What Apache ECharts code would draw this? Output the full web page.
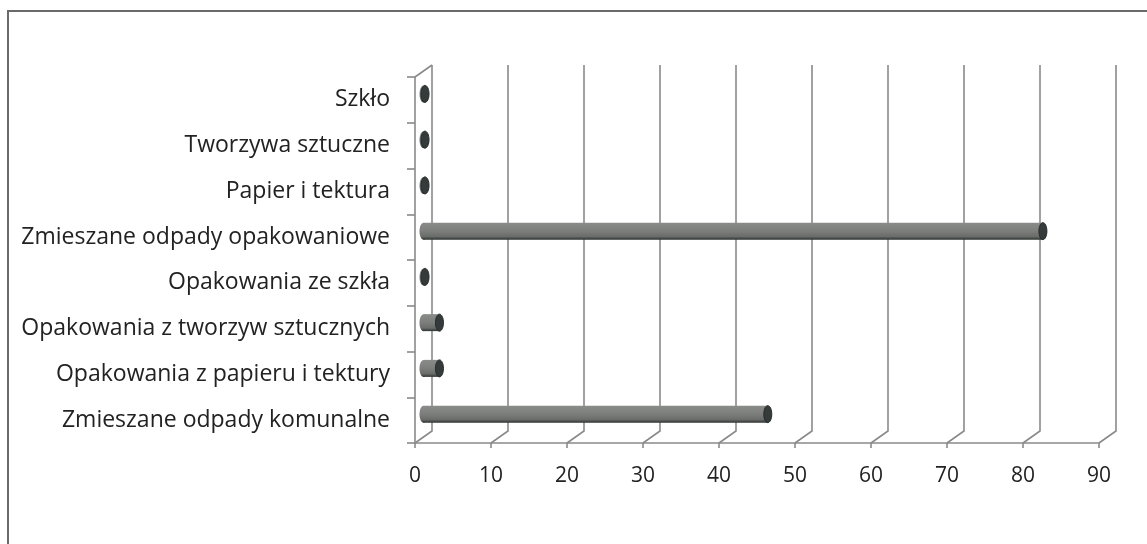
<!DOCTYPE html>
<html lang="pl">
<head>
    <meta charset="UTF-8">
    <title>Odpady</title>
    <script src="https://cdn.jsdelivr.net/npm/echarts@6/dist/echarts.min.js"></script>
    <style>
        html, body { margin: 0; padding: 0; background: #fff; }
        #main { width: 1147px; height: 544px; }
    </style>
</head>
<body>
<div id="main"></div>
<script>
    // kategorie od dołu do góry
    var categories = [
        'Zmieszane odpady komunalne',
        'Opakowania z papieru i tektury',
        'Opakowania z tworzyw sztucznych',
        'Opakowania ze szkła',
        'Zmieszane odpady opakowaniowe',
        'Papier i tektura',
        'Tworzywa sztuczne',
        'Szkło'
    ];
    var values = [45.3, 2.1, 2.1, 0.2, 81.5, 0.2, 0.2, 0.2];
    var xTicks = [0, 10, 20, 30, 40, 50, 60, 70, 80, 90];

    // przesunięcie "głębi" 3D (tylna ściana)
    var DX = 17, DY = -12;
    var gridColor = '#8a8a8a';

    var chart = echarts.init(document.getElementById('main'));

    function renderWalls(params, api) {
        var cs = params.coordSys;
        var v = api.value(0);
        var x = api.coord([v, 0])[0];
        var bottom = cs.y + cs.height;
        var top = cs.y;
        var children = [{
            type: 'polyline',
            shape: { points: [[x, bottom], [x + DX, bottom + DY], [x + DX, top + DY]] },
            style: { stroke: gridColor, lineWidth: 1.6, fill: null }
        }];
        if (v === xTicks[0]) {
            children.push({
                type: 'line',
                shape: { x1: x, y1: top, x2: x + DX, y2: top + DY },
                style: { stroke: gridColor, lineWidth: 1.6 }
            });
        }
        return { type: 'group', children: children };
    }

    function renderBar(params, api) {
        var start = api.coord([0, api.value(1)]);
        var end = api.coord([api.value(0), api.value(1)]);
        var h = 17, rx = 4;
        var cy = start[1] + DY / 2;
        var x0 = start[0] + DX / 2;
        var x1 = end[0] + DX / 2;
        var grad = new echarts.graphic.LinearGradient(0, 0, 0, 1, [
            { offset: 0, color: '#8a8c89' },
            { offset: 0.5, color: '#7c7e7b' },
            { offset: 0.82, color: '#6a6c69' },
            { offset: 1, color: '#2d3432' }
        ]);
        return {
            type: 'group',
            children: [
                {
                    type: 'ellipse',
                    shape: { cx: x0, cy: cy, rx: rx, ry: h / 2 },
                    style: { fill: grad }
                },
                {
                    type: 'rect',
                    shape: { x: x0, y: cy - h / 2, width: Math.max(x1 - x0, 0), height: h },
                    style: { fill: grad }
                },
                {
                    type: 'ellipse',
                    shape: { cx: x1, cy: cy, rx: rx, ry: h / 2 },
                    style: { fill: '#343b3a', stroke: '#262b2a', lineWidth: 1 }
                }
            ]
        };
    }

    var option = {
        backgroundColor: '#ffffff',
        animation: false,
        graphic: [{
            type: 'rect',
            shape: { x: 8, y: 11, width: 1200, height: 600 },
            style: { fill: null, stroke: '#6a6a6a', lineWidth: 2 },
            silent: true
        }],
        grid: { left: 415, right: 48, top: 77, bottom: 101 },
        xAxis: {
            type: 'value',
            min: 0,
            max: 90,
            interval: 10,
            axisLine: { show: true, lineStyle: { color: gridColor, width: 1.6 } },
            axisTick: { show: true, length: 5, lineStyle: { color: gridColor, width: 1.6 } },
            splitLine: { show: false },
            axisLabel: {
                color: '#222',
                fontFamily: 'Open Sans',
                fontSize: 21,
                margin: 23
            }
        },
        yAxis: {
            type: 'category',
            data: categories,
            axisLine: { show: true, lineStyle: { color: gridColor, width: 1.6 } },
            axisTick: { show: true, length: 8, lineStyle: { color: gridColor, width: 1.6 } },
            axisLabel: {
                color: '#222',
                fontFamily: 'Open Sans',
                fontSize: 23,
                margin: 25
            }
        },
        series: [
            {
                type: 'custom',
                renderItem: renderWalls,
                data: xTicks.map(function (t) { return [t]; }),
                encode: { x: 0 },
                silent: true,
                z: 1
            },
            {
                type: 'custom',
                renderItem: renderBar,
                data: values.map(function (v, i) { return [v, i]; }),
                encode: { x: 0, y: 1 },
                z: 3
            }
        ]
    };
    chart.setOption(option);
</script>
</body>
</html>
